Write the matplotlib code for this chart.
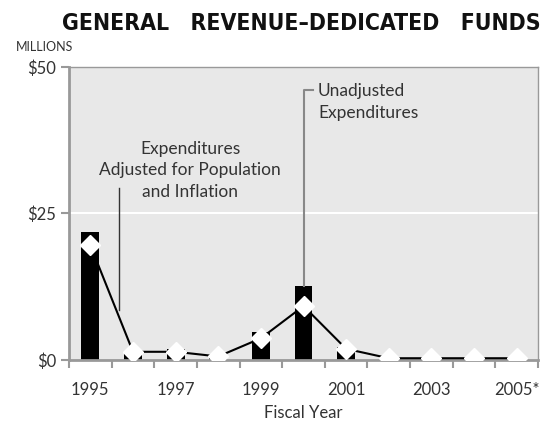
import numpy as np
import matplotlib.pyplot as plt

plt.rcParams['font.family'] = ['Lato', 'DejaVu Sans']

# ---- data (millions of dollars) ----
years = ['1995', '1996', '1997', '1998', '1999', '2000',
         '2001', '2002', '2003', '2004', '2005*']
unadjusted = [21.8, 1.5, 1.9, 0.5, 4.8, 12.6, 2.2, 0.5, 0.5, 0.5, 0.5]
adjusted = [19.6, 1.4, 1.4, 0.6, 3.7, 9.2, 1.9, 0.3, 0.3, 0.3, 0.3]
ytick_vals = [0, 25, 50]
ytick_labels = ['$0', '$25', '$50']

grey = '#999999'
txt = '#333333'
x = np.arange(len(years))

fig = plt.figure(figsize=(5.46, 4.28), dpi=100)
ax = fig.add_axes([0.1264, 0.1589, 0.859, 0.6846])
ax.set_facecolor('#e8e8e8')

ax.bar(x, unadjusted, width=0.42, color='black', zorder=2)
ax.plot(x, adjusted, color='black', lw=1.5, zorder=3)
ax.plot(x, adjusted, ls='none', marker='D', ms=10, mfc='white', mec='white', zorder=4)

ax.axhline(25, color='white', lw=1.5, zorder=1)

ax.set_xlim(-0.5, len(years) - 0.5)
ax.set_ylim(0, 50)

# year labels every other year, tick marks between categories
ax.set_xticks(x[::2])
ax.set_xticklabels(years[::2], fontsize=12, color=txt)
ax.tick_params(axis='x', which='major', length=0, pad=16)
ax.set_xticks(np.arange(-0.5, len(years)), minor=True)
ax.tick_params(axis='x', which='minor', length=6, width=1.5, color=grey, direction='out')

ax.set_yticks(ytick_vals)
ax.set_yticklabels(ytick_labels, fontsize=12, color=txt)
ax.tick_params(axis='y', length=6, width=1.5, color=grey, pad=3)

for side in ['top', 'right']:
    ax.spines[side].set_color(grey)
    ax.spines[side].set_linewidth(1)
for side in ['left', 'bottom']:
    ax.spines[side].set_color(grey)
    ax.spines[side].set_linewidth(2)

ax.set_xlabel('Fiscal Year', fontsize=12, color=txt, labelpad=5)

# annotations
ax.text(2.34, 32.4, 'Expenditures\nAdjusted for Population\nand Inflation',
        ha='center', va='center', fontsize=12.5, color=txt, linespacing=1.42)
ax.plot([0.67, 0.67], [8.5, 29.3], color='#333333', lw=1, zorder=5)

ax.text(5.34, 44.0, 'Unadjusted\nExpenditures', ha='left', va='center',
        fontsize=12.5, color=txt, linespacing=1.42)
ax.plot([5.22, 5.0, 5.0], [46.1, 46.1, unadjusted[5]], color='#888888', lw=1.5, zorder=5)

fig.text(0.552, 0.946, 'GENERAL   REVENUE\u2013DEDICATED   FUNDS', ha='center', va='center',
         fontsize=16.5, fontweight='bold', color='#111111',
         family=['DejaVu Sans'], fontstretch='condensed')
fig.text(0.029, 0.89, 'MILLIONS', ha='left', va='center', fontsize=9, color=txt)

fig.savefig('out.png', dpi=100)
